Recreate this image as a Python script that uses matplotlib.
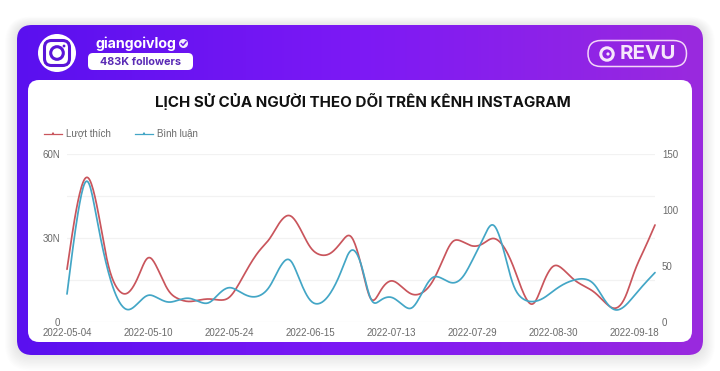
import numpy as np
import matplotlib
matplotlib.use("Agg")
import matplotlib.pyplot as plt
from matplotlib.patches import FancyBboxPatch, Circle
from matplotlib.colors import LinearSegmentedColormap

W, H = 720, 371

# values (likes in N = thousands, comments on right axis)
likes = [18.7, 42.3, 53.2, 41, 20.2, 11.3, 9.8, 15.5, 24, 18.5,
         10.7, 8.1, 7.1, 7.7, 8.2, 7.7, 8.3, 13.7, 20.2, 25.6,
         29.4, 35.7, 38.4, 33.3, 26.2, 23.7, 24.2, 28, 31.6, 20.8,
         6.2, 11.9, 15, 12.5, 9.6, 10.1, 13.7, 21.4, 29.1, 28.6,
         26.8, 27.6, 30.1, 27.4, 20.2, 10.1, 5.3, 14.3, 20.5, 18.5,
         14.9, 12.7, 10.7, 7.1, 4.4, 7.7, 18.5, 26.2, 34.5]
comments = [24.7, 93.8, 132, 87.8, 46, 19.3, 9.6, 16.4, 24.6, 20.8,
            17, 19.3, 21.4, 17.9, 16, 25.3, 31.2, 26.8, 22.3, 22.9,
            30.7, 49.1, 57.3, 35.7, 17.9, 16, 25.3, 43.2, 66.2, 53.6,
            15.8, 20.2, 22.5, 15.8, 10.6, 25.3, 40.4, 38.7, 34, 38.7,
            55.1, 72.9, 89.5, 67, 31.3, 19.9, 17.7, 20.8, 27.7, 33.6,
            37.2, 38.4, 34.2, 19.3, 9.8, 13.4, 23.8, 34.2, 43.8]
tick_labels = ["2022-05-04", "2022-05-10", "2022-05-24", "2022-06-15",
               "2022-07-13", "2022-07-29", "2022-08-30", "2022-09-18"]
left_ticks = [0, 30, 60]
left_labels = ["0", "30N", "60N"]
right_ticks = [0, 50, 100, 150]
grid_vals = [0, 15, 30, 45, 60]

title = "LỊCH SỬ CỦA NGƯỜI THEO DÕI TRÊN KÊNH INSTAGRAM"
RED = "#c9555c"
BLUE = "#43a6c6"
TXT = "#6a6a6a"
AXFONT = ['Liberation Sans', 'DejaVu Sans']

plt.rcParams['font.family'] = ['Inter', 'DejaVu Sans']


def smooth(y, n=12, sigma=0.35):
    # catmull-rom through the points, then a small blur to take out reading noise
    y = np.asarray(y, dtype=float)
    p = np.concatenate(([2 * y[0] - y[1]], y, [2 * y[-1] - y[-2]]))
    xs, ys = [], []
    t = np.linspace(0, 1, n, endpoint=False)
    for i in range(1, len(p) - 2):
        a, b, c, d = p[i - 1], p[i], p[i + 1], p[i + 2]
        ys.append(0.5 * (2 * b + (c - a) * t + (2 * a - 5 * b + 4 * c - d) * t ** 2
                         + (3 * b - a - 3 * c + d) * t ** 3))
        xs.append(i - 1 + t)
    xs.append([len(y) - 1])
    ys.append([y[-1]])
    xs, ys = np.concatenate(xs), np.concatenate(ys)
    r = int(3 * sigma * n)
    k = np.exp(-0.5 * (np.arange(-r, r + 1) / (sigma * n)) ** 2)
    k /= k.sum()
    pad0 = 2 * ys[0] - ys[r:0:-1]
    pad1 = 2 * ys[-1] - ys[-2:-r - 2:-1]
    ys = np.convolve(np.concatenate((pad0, ys, pad1)), k, mode="valid")
    return xs, ys


def rbox(ax, x0, y0, x1, y1, r, **kw):
    p = FancyBboxPatch((x0 + r, y0 + r), x1 - x0 - 2 * r, y1 - y0 - 2 * r,
                       boxstyle="round,pad=%f,rounding_size=%f" % (r, r), **kw)
    ax.add_patch(p)
    return p


fig = plt.figure(figsize=(W / 100, H / 100), dpi=100, facecolor="white")

# card, header and logos in pixel coordinates
bg = fig.add_axes([0, 0, 1, 1], zorder=0)
bg.set_xlim(0, W)
bg.set_ylim(H, 0)
bg.axis("off")

for g in range(12, 0, -1):
    rbox(bg, 17 - g, 25 - g * 0.7, 703 + g, 355 + g * 1.3, 14 + g,
         fc="black", ec="none", alpha=0.006)

cmap = LinearSegmentedColormap.from_list("card", ["#5a10ef", "#7d19f5", "#9a2ade"])
img = bg.imshow(np.linspace(0, 1, 256).reshape(1, -1), cmap=cmap, aspect="auto",
                extent=(17, 703, 355, 25), zorder=1)
bg.set_xlim(0, W)
bg.set_ylim(H, 0)
clip = rbox(bg, 17, 25, 703, 355, 15, fc="none", ec="none", zorder=1)
img.set_clip_path(clip)
rbox(bg, 28, 80, 692, 342, 11, fc="white", ec="none", zorder=2)

# instagram logo
bg.add_patch(Circle((57, 53), 19, fc="white", ec="none", zorder=3))
rbox(bg, 44.5, 40.5, 69.5, 65.5, 7, fc="none", ec="#5a14d8", lw=2.2, zorder=4)
bg.add_patch(Circle((57, 53), 6.3, fc="none", ec="#5a14d8", lw=2.2, zorder=4))
bg.add_patch(Circle((64, 46), 1.4, fc="#5a14d8", ec="none", zorder=4))

bg.text(95, 43.5, "giangoivlog", color="white", fontsize=10.2, fontweight="bold",
        ha="left", va="center", zorder=4)
bg.add_patch(Circle((183.5, 43.5), 4.5, fc="white", ec="none", alpha=0.92, zorder=4))
bg.plot([181.3, 183, 186], [43.6, 45.3, 41.8], color="#6a18e8", lw=1.1, zorder=5)
rbox(bg, 88, 53, 193, 70, 5, fc="white", ec="none", zorder=3)
bg.text(140.5, 61.7, "483K followers", color="#5a2bb5", fontsize=7.8, fontweight="bold",
        ha="center", va="center", zorder=4)

# revu logo
rbox(bg, 588, 40.5, 686.5, 66.5, 13, fc="none", ec="#f3d6f8", lw=1.1, zorder=4)
bg.add_patch(Circle((607, 54), 6.2, fc="none", ec="#f6e6fb", lw=2.2, zorder=4))
bg.add_patch(Circle((608, 54), 1.6, fc="#f6e6fb", ec="none", zorder=4))
bg.text(647.5, 54, "REVU", color="#f6e6fb", fontsize=14.8, fontweight="bold",
        ha="center", va="center", zorder=4)

bg.text(363, 102, title, color="#111111", fontsize=10.9, fontweight="bold",
        ha="center", va="center", zorder=4)

# chart
ax = fig.add_axes([67 / W, 1 - 321.7 / H, 588 / W, 168.2 / H], zorder=2)
ax.patch.set_alpha(0)
xt = np.arange(len(likes))
ax.set_xlim(0, len(likes) - 1)
ax.set_ylim(0, 60)
for v in grid_vals:
    ax.axhline(v, color="#f2f2f2", lw=0.9, zorder=0)
for s in ax.spines.values():
    s.set_visible(False)
ax.set_yticks(left_ticks)
ax.set_yticklabels(left_labels, family=AXFONT)
ax.set_xticks(xt[::8])
ax.set_xticklabels(tick_labels, family=AXFONT)
ax.tick_params(axis="both", length=0, labelsize=7, labelcolor=TXT)
ax.tick_params(axis="x", pad=4.5)
ax.tick_params(axis="y", pad=5)

ax2 = ax.twinx()
ax2.patch.set_alpha(0)
ax2.set_ylim(0, 150)
ax2.set_yticks(right_ticks)
ax2.set_yticklabels([str(v) for v in right_ticks], family=AXFONT)
for s in ax2.spines.values():
    s.set_visible(False)
ax2.tick_params(axis="y", length=0, labelsize=7, labelcolor=TXT, pad=5)

lx, ly = smooth(likes)
cx, cy = smooth(comments)
ax.plot(lx, ly, color=RED, lw=1.25, solid_capstyle="round", clip_on=False)
ax2.plot(cx, cy, color=BLUE, lw=1.25, solid_capstyle="round", clip_on=False)

# legend
for x0, col, lab in [(44, RED, "Lượt thích"), (135, BLUE, "Bình luận")]:
    bg.plot([x0, x0 + 18], [133.5, 133.5], color=col, lw=0.9, zorder=4)
    bg.add_patch(Circle((x0 + 9, 133.5), 1.1, fc=col, ec="none", zorder=4))
    bg.text(x0 + 22, 133.5, lab, color=TXT, fontsize=7, family=AXFONT,
            ha="left", va="center", zorder=4)

fig.savefig("out.png", dpi=100)
